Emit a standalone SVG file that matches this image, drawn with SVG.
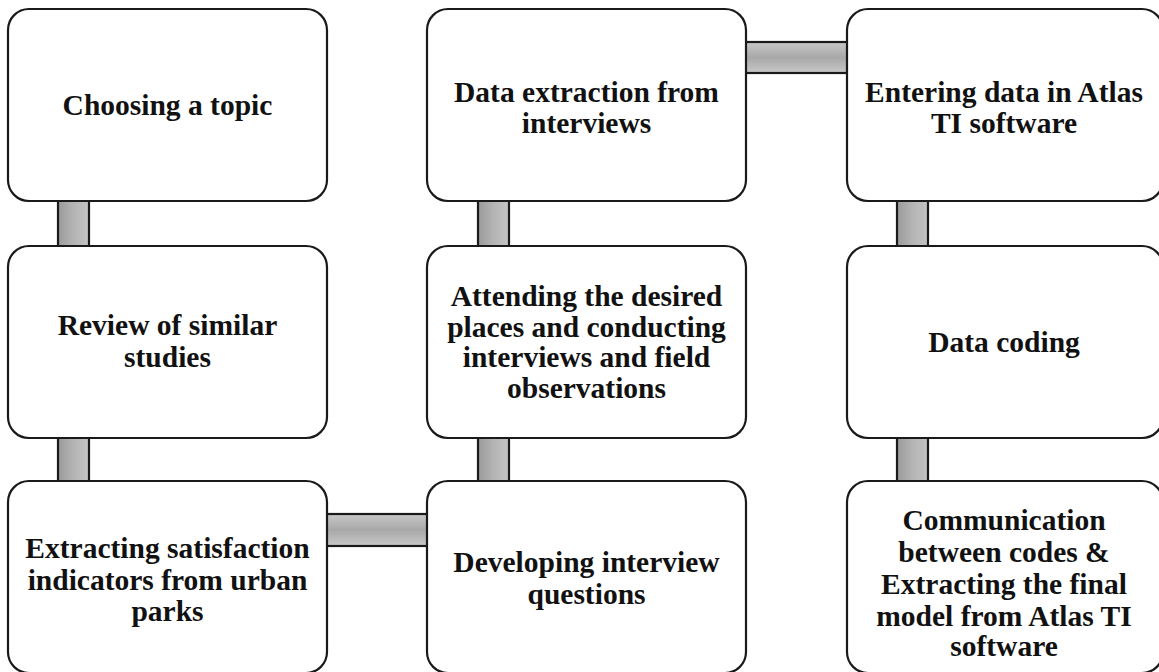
<svg xmlns="http://www.w3.org/2000/svg" width="1159" height="672" viewBox="0 0 1159 672">
<defs>
<linearGradient id="gv" x1="0" y1="0" x2="1" y2="0">
<stop offset="0" stop-color="#9a9a9a"/>
<stop offset="0.5" stop-color="#b4b4b4"/>
<stop offset="1" stop-color="#c4c4c4"/>
</linearGradient>
<linearGradient id="gh" x1="0" y1="0" x2="0" y2="1">
<stop offset="0" stop-color="#c8c8c8"/>
<stop offset="0.5" stop-color="#a8a8a8"/>
<stop offset="1" stop-color="#c8c8c8"/>
</linearGradient>
<style>
.box{fill:#ffffff;stroke:#1a1a1a;stroke-width:2.2}
.cv{fill:url(#gv);stroke:#1a1a1a;stroke-width:2.2}
.ch{fill:url(#gh);stroke:#1a1a1a;stroke-width:2.2}
text{font-family:"Liberation Serif","Times New Roman",serif;font-weight:bold;font-size:29.5px;fill:#111;text-anchor:middle}
</style>
</defs>
<rect width="1159" height="672" fill="#ffffff"/>
<g id="connectors">
<rect class="cv" x="58" y="198" width="31" height="51"/>
<rect class="cv" x="58" y="435" width="31" height="49"/>
<rect class="ch" x="324" y="514" width="106" height="32"/>
<rect class="cv" x="478" y="435" width="31" height="49"/>
<rect class="cv" x="478" y="198" width="31" height="51"/>
<rect class="ch" x="743" y="42" width="107" height="31"/>
<rect class="cv" x="897" y="198" width="31" height="51"/>
<rect class="cv" x="897" y="435" width="31" height="49"/>
</g>
<g id="n1"><rect class="box" x="8" y="9" width="319" height="192" rx="21"/>
<text x="167.5" y="115">Choosing a topic</text></g>
<g id="n2"><rect class="box" x="8" y="246" width="319" height="192" rx="21"/>
<text x="167.5" y="335">Review of similar</text><text x="167.5" y="367">studies</text></g>
<g id="n3"><rect class="box" x="8" y="481" width="319" height="192" rx="21"/>
<text x="167.5" y="558">Extracting satisfaction</text><text x="167.5" y="590">indicators from urban</text><text x="167.5" y="621">parks</text></g>
<g id="n4"><rect class="box" x="427" y="481" width="319" height="192" rx="21"/>
<text x="586.5" y="572">Developing interview</text><text x="586.5" y="604">questions</text></g>
<g id="n5"><rect class="box" x="427" y="246" width="319" height="192" rx="21"/>
<text x="586.5" y="306">Attending the desired</text><text x="586.5" y="337">places and conducting</text><text x="586.5" y="367">interviews and field</text><text x="586.5" y="398">observations</text></g>
<g id="n6"><rect class="box" x="427" y="9" width="319" height="192" rx="21"/>
<text x="586.5" y="102">Data extraction from</text><text x="586.5" y="133">interviews</text></g>
<g id="n7"><rect class="box" x="847" y="9" width="316" height="192" rx="21"/>
<text x="1004" y="102">Entering data in Atlas</text><text x="1004" y="133">TI software</text></g>
<g id="n8"><rect class="box" x="847" y="246" width="316" height="192" rx="21"/>
<text x="1004" y="352">Data coding</text></g>
<g id="n9"><rect class="box" x="847" y="481" width="316" height="192" rx="21"/>
<text x="1004" y="530">Communication</text><text x="1004" y="562">between codes &amp;</text><text x="1004" y="594">Extracting the final</text><text x="1004" y="626">model from Atlas TI</text><text x="1004" y="656">software</text></g>
</svg>
